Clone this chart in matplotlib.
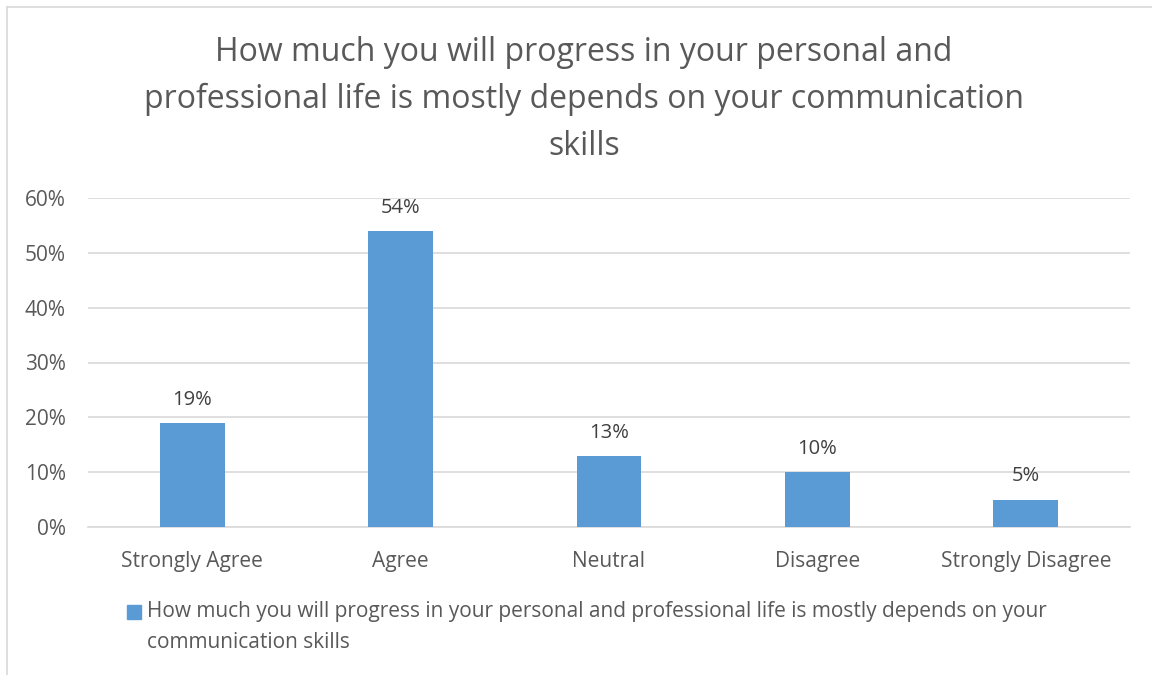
import matplotlib.pyplot as plt
from matplotlib.patches import Rectangle
from matplotlib.lines import Line2D

categories = ["Strongly Agree", "Agree", "Neutral", "Disagree", "Strongly Disagree"]
values = [19, 54, 13, 10, 5]
y_ticks = [0, 10, 20, 30, 40, 50, 60]
title = ("How much you will progress in your personal and\n"
         "professional life is mostly depends on your communication\n"
         "skills")
series_name = ("How much you will progress in your personal and professional life is mostly depends on your\n"
               "communication skills")

bar_color = "#5B9BD5"
text_color = "#595959"
grid_color = "#D9D9D9"

plt.rcParams['font.family'] = ['Open Sans', 'DejaVu Sans']

fig = plt.figure(figsize=(11.52, 6.75), dpi=100)
ax = fig.add_axes([88 / 1152, 1 - 527 / 675, 1042 / 1152, 329 / 675])

x = range(len(categories))
bars = ax.bar(x, values, width=0.31, color=bar_color, zorder=3)
for xi, v in zip(x, values):
    ax.annotate(f"{v}%", (xi, v), xytext=(0, 9.5), textcoords="offset points",
                ha="center", va="bottom", fontsize=14.5, color="#404040")

ax.set_xlim(-0.5, len(categories) - 0.5)
ax.set_ylim(0, 60)
ax.set_yticks(y_ticks)
ax.set_yticklabels([f"{t}%" for t in y_ticks])
ax.set_xticks(list(x))
ax.set_xticklabels(categories)
ax.tick_params(axis="both", length=0, labelsize=15, colors=text_color)
ax.tick_params(axis="y", pad=16)
ax.tick_params(axis="x", pad=17)
ax.yaxis.grid(True, color=grid_color, linewidth=1.2, zorder=0)
for side in ["top", "right", "left"]:
    ax.spines[side].set_visible(False)
ax.spines["bottom"].set_color(grid_color)
ax.spines["bottom"].set_linewidth(1.2)

fig.text(584 / 1152, 1 - 99.5 / 675, title, ha="center", va="center",
         fontsize=23, color=text_color, linespacing=1.54)

# legend entry: blue square with the series name wrapped on two lines
fig.patches.append(Rectangle((127 / 1152, 1 - 619 / 675), 14 / 1152, 14 / 675,
                             transform=fig.transFigure, color=bar_color))
fig.text(147 / 1152, 1 - 627 / 675, series_name, ha="left", va="center",
         fontsize=15, color=text_color, linespacing=1.58)

# chart frame (only left and top edges fall inside the image)
fig.add_artist(Line2D([7 / 1152, 7 / 1152], [0, 1 - 7 / 675], color=grid_color,
                      linewidth=1.2, transform=fig.transFigure))
fig.add_artist(Line2D([7 / 1152, 1], [1 - 7 / 675, 1 - 7 / 675], color=grid_color,
                      linewidth=1.2, transform=fig.transFigure))

fig.savefig("out.png", dpi=100)
